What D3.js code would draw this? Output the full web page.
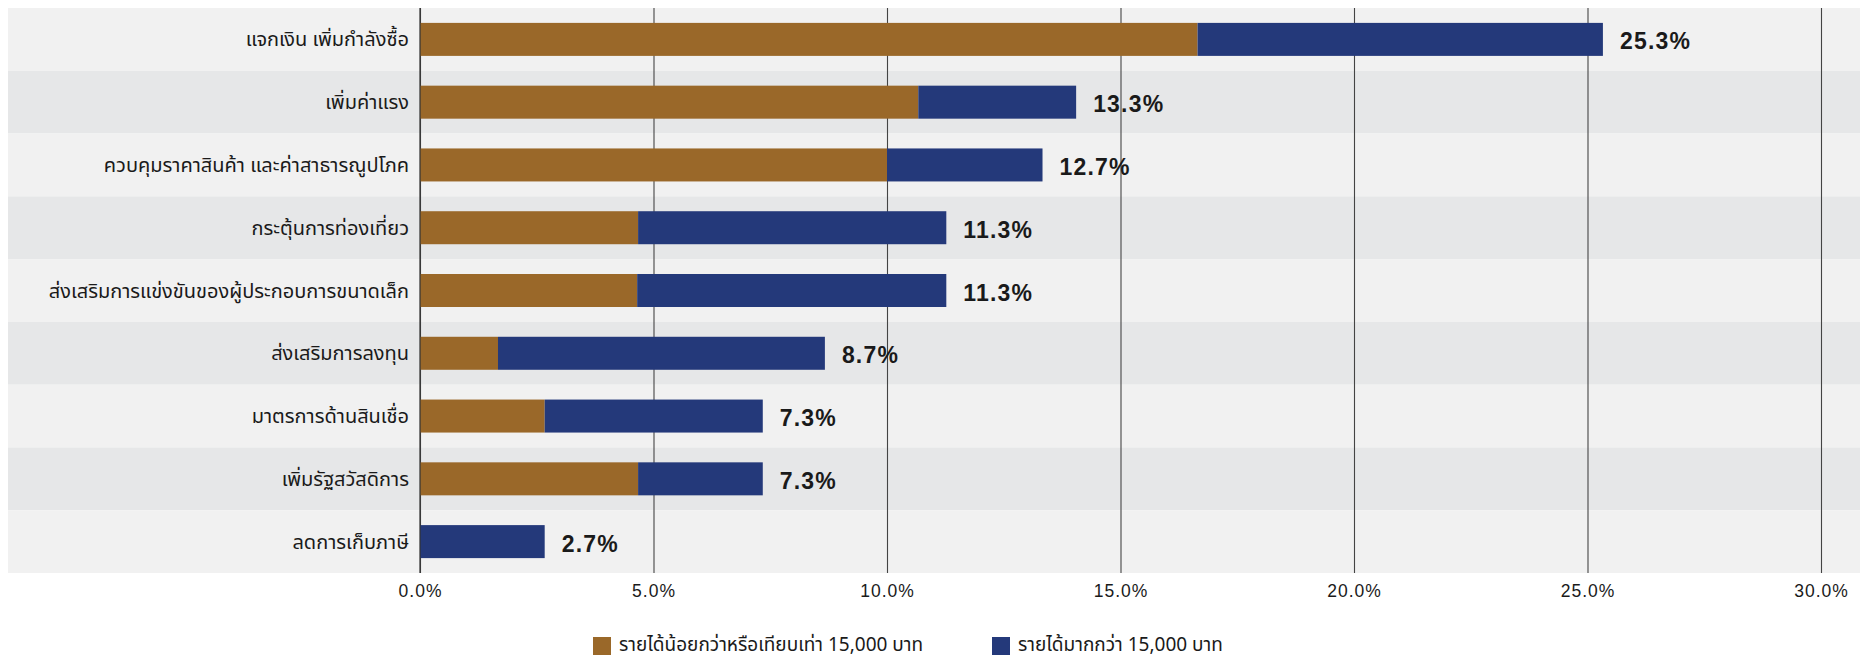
<!DOCTYPE html>
<html>
<head>
<meta charset="utf-8">
<script src="https://cdn.jsdelivr.net/npm/d3@7"></script>
<style>
  html, body { margin: 0; padding: 0; background: #ffffff; }
  svg { display: block; }
</style>
</head>
<body>
<svg id="chart" width="1860" height="660"></svg>
<script>
const categories = [
  "แจกเงิน เพิ่มกำลังซื้อ",
  "เพิ่มค่าแรง",
  "ควบคุมราคาสินค้า และค่าสาธารณูปโภค",
  "กระตุ้นการท่องเที่ยว",
  "ส่งเสริมการแข่งขันของผู้ประกอบการขนาดเล็ก",
  "ส่งเสริมการลงทุน",
  "มาตรการด้านสินเชื่อ",
  "เพิ่มรัฐสวัสดิการ",
  "ลดการเก็บภาษี"
];
const lowIncome = [16.65, 10.67, 10.0, 4.67, 4.65, 1.67, 2.67, 4.67, 0];
const highIncome = [8.68, 3.38, 3.33, 6.6, 6.62, 7.0, 4.67, 2.67, 2.67];
const totalLabels = ["25.3%", "13.3%", "12.7%", "11.3%", "11.3%", "8.7%", "7.3%", "7.3%", "2.7%"];
const seriesNames = ["รายได้น้อยกว่าหรือเทียบเท่า 15,000 บาท", "รายได้มากกว่า 15,000 บาท"];
const tickValues = [0, 5, 10, 15, 20, 25, 30];

const colors = ["#9a6829", "#24397a"];
const thaiFont = "'Noto Sans Thai', 'Noto Sans', 'Liberation Sans', sans-serif";
const numFont = "'Liberation Sans', Arial, sans-serif";

const svg = d3.select("#chart");
const W = 1860;
const plotLeft = 420, plotRight = 1821, plotTop = 8, plotBottom = 573;

const x = d3.scaleLinear().domain([0, 30]).range([plotLeft, plotRight]);
const yBand = d3.scaleBand().domain(categories).range([plotTop, plotBottom]).paddingInner(0).paddingOuter(0);
const barH = 33;

// background bands
svg.append("g").selectAll("rect").data(categories).join("rect")
  .attr("x", 8).attr("width", W - 8)
  .attr("y", d => yBand(d)).attr("height", yBand.bandwidth())
  .attr("fill", (d, i) => i % 2 === 0 ? "#f1f1f1" : "#e6e7e8");

// gridlines + tick labels via axis
const axis = d3.axisBottom(x).tickValues(tickValues)
  .tickFormat(d => d.toFixed(1) + "%")
  .tickSizeInner(-(plotBottom - plotTop)).tickSizeOuter(0).tickPadding(12);
const gAxis = svg.append("g").attr("transform", `translate(0,${plotBottom})`).call(axis);
gAxis.select(".domain").remove();
gAxis.selectAll(".tick line").attr("stroke", "#444").attr("stroke-width", 1.1);
gAxis.selectAll(".tick text")
  .attr("fill", "#1a1a1a")
  .style("font-family", numFont).style("font-size", "17.5px").style("letter-spacing", "1px");

// stacked bars
const rows = categories.map((c, i) => ({ cat: c, low: lowIncome[i], high: highIncome[i] }));
const stack = d3.stack().keys(["low", "high"])(rows);
const gBars = svg.append("g");
stack.forEach((layer, k) => {
  gBars.append("g").attr("fill", colors[k]).selectAll("rect").data(layer).join("rect")
    .attr("x", d => x(d[0]))
    .attr("width", d => Math.max(0, x(d[1]) - x(d[0])))
    .attr("y", d => yBand(d.data.cat) + (yBand.bandwidth() - barH) / 2)
    .attr("height", barH);
});

// zero axis line
svg.append("line").attr("x1", x(0)).attr("x2", x(0))
  .attr("y1", plotTop).attr("y2", plotBottom)
  .attr("stroke", "#333").attr("stroke-width", 1.2);

// category labels
svg.append("g").selectAll("text").data(categories).join("text")
  .attr("x", plotLeft - 11)
  .attr("y", d => yBand(d) + yBand.bandwidth() / 2)
  .attr("dy", "0.35em")
  .attr("text-anchor", "end")
  .attr("fill", "#1a1a1a")
  .style("font-family", thaiFont).style("font-size", "20px")
  .text(d => d);

// total value labels
svg.append("g").selectAll("text").data(rows).join("text")
  .attr("x", (d, i) => x(d.low + d.high) + 17)
  .attr("y", d => yBand(d.cat) + yBand.bandwidth() / 2 + 2)
  .attr("dy", "0.35em")
  .attr("fill", "#1a1a1a")
  .style("font-family", numFont).style("font-size", "23px").style("font-weight", "bold")
  .style("letter-spacing", "1.2px")
  .text((d, i) => totalLabels[i]);

// legend
const legendX = [593, 992];
const lg = svg.append("g");
seriesNames.forEach((name, k) => {
  lg.append("rect").attr("x", legendX[k]).attr("y", 637).attr("width", 18).attr("height", 18).attr("fill", colors[k]);
  lg.append("text").attr("x", legendX[k] + 26).attr("y", 644).attr("dy", "0.35em")
    .attr("fill", "#1a1a1a")
    .style("font-family", thaiFont).style("font-size", "19px")
    .text(name);
});
</script>
</body>
</html>
